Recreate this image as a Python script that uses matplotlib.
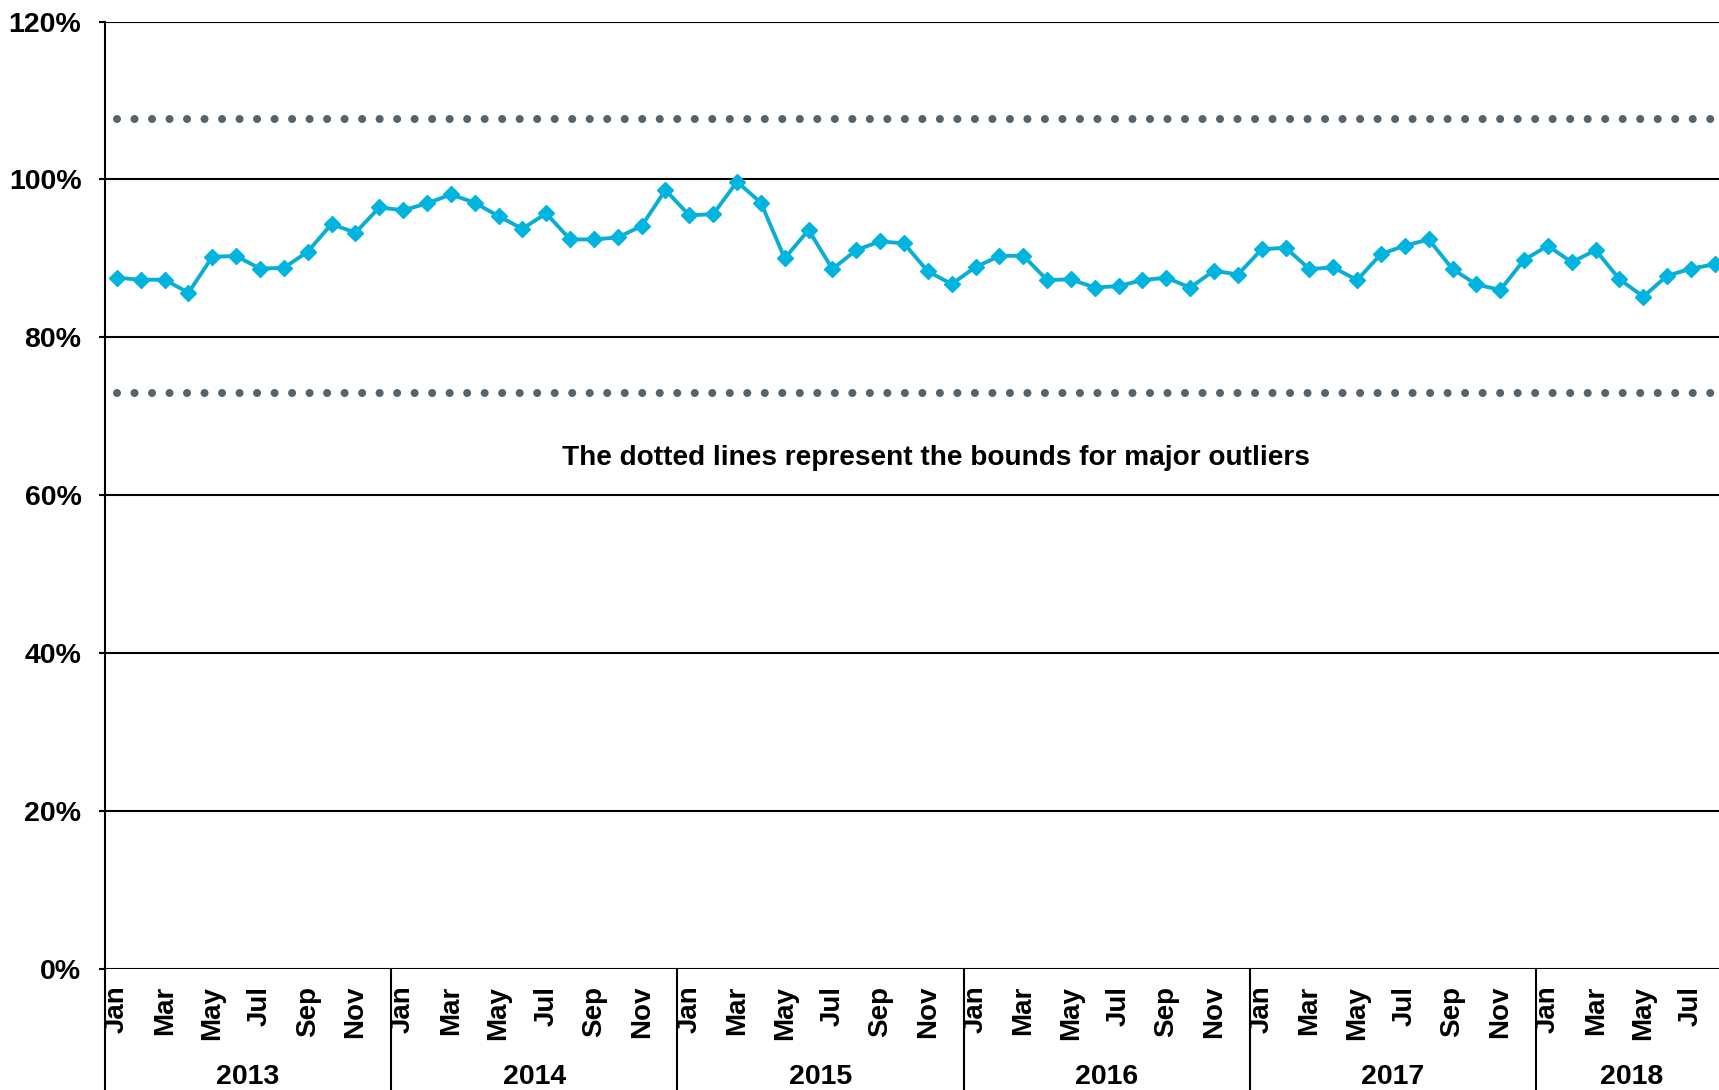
import matplotlib
matplotlib.use("Agg")
import matplotlib.pyplot as plt
import matplotlib.transforms as mtransforms
import numpy as np

plt.rcParams['font.family'] = ['Liberation Sans', 'DejaVu Sans']
plt.rcParams['font.weight'] = 'bold'

years = ["2013", "2014", "2015", "2016", "2017", "2018"]
months = ["Jan", "Feb", "Mar", "Apr", "May", "Jun", "Jul", "Aug", "Sep", "Oct", "Nov", "Dec"]
months_per_year = [12, 12, 12, 12, 12, 8]

values = [
    87.55, 87.3, 87.3, 85.65, 90.2, 90.3, 88.7, 88.8, 90.85, 94.35, 93.25, 96.45,   # 2013
    96.1, 96.95, 98.1, 97.05, 95.35, 93.75, 95.7, 92.4, 92.4, 92.65, 94.1, 98.65,   # 2014
    95.45, 95.6, 99.7, 97.05, 90.0, 93.6, 88.65, 91.05, 92.15, 91.9, 88.35, 86.75,  # 2015
    88.9, 90.3, 90.35, 87.25, 87.35, 86.3, 86.5, 87.25, 87.55, 86.3, 88.45, 87.95,  # 2016
    91.15, 91.35, 88.65, 88.85, 87.25, 90.55, 91.6, 92.4, 88.65, 86.7, 86.0, 89.8,  # 2017
    91.6, 89.5, 91.05, 87.35, 85.15, 87.8, 88.7, 89.25,                             # 2018
]
upper_bound = 107.7
lower_bound = 72.9
yticks = [0, 20, 40, 60, 80, 100, 120]
note = "The dotted lines represent the bounds for major outliers"

W, H = 1719, 1090
fig = plt.figure(figsize=(W / 100, H / 100), dpi=100)
n = len(values)
month_px = 23.85
left_px, right_px = 105.0, 105.0 + n * month_px
top_px, bottom_px = 21.5, 969.0
ax = fig.add_axes([left_px / W, 1 - bottom_px / H,
                   (right_px - left_px) / W, (bottom_px - top_px) / H])

x = np.arange(n)
ax.set_xlim(-0.5, n - 0.5)
ax.set_ylim(0, 120)

# gridlines
for yv in yticks:
    ax.axhline(yv, color='black', lw=1.5, zorder=1)

# bounds (dotted)
dot_lw = 5.8
dot_style = dict(color='#56626C', lw=dot_lw, linestyle=(0, (0.001, 12.6 / dot_lw)),
                 dash_capstyle='round', zorder=2)
ax.plot([x[0], x[-1]], [upper_bound, upper_bound], **dot_style)
ax.plot([x[0], x[-1]], [lower_bound, lower_bound], **dot_style)

# main series
ax.plot(x, values, color='#0BAED3', lw=2.8, marker='D', markersize=8.3,
        markerfacecolor='#00B4E0', markeredgecolor='#00B4E0', zorder=3,
        clip_on=False)

# spines
for s in ['top', 'right', 'bottom']:
    ax.spines[s].set_visible(False)
ax.spines['left'].set_linewidth(1.5)

# y ticks
ax.set_yticks(yticks)
ax.set_yticklabels([f"{v}%" for v in yticks], fontsize=20.5, fontweight='bold')
ax.tick_params(axis='y', length=4, width=1.5, pad=13)

# month ticks
month_labels = []
for nm in months_per_year:
    month_labels += months[:nm]
tick_idx = [i for i in range(n) if months.index(month_labels[i]) % 2 == 0]
ax.set_xticks(tick_idx)
ax.set_xticklabels([month_labels[i] for i in tick_idx], rotation=90,
                   fontsize=20, fontweight='bold')
ax.tick_params(axis='x', length=0, pad=12)

# year separators and labels
trans_sep = mtransforms.blended_transform_factory(ax.transData, ax.transAxes)
trans_lab = mtransforms.blended_transform_factory(ax.transData, fig.transFigure)
start = 0
for yr, nm in zip(years, months_per_year):
    ax.plot([start - 0.5, start - 0.5], [0, -0.2], color='black', lw=1.5,
            transform=trans_sep, clip_on=False)
    ax.text(start + (nm - 1) / 2, (H - 1077) / H, yr, transform=trans_lab,
            ha='center', va='center', fontsize=20.5, fontweight='bold')
    start += nm

ax.text((936 - left_px) / (right_px - left_px), (969 - 458) / (969 - 21.5), note,
        transform=ax.transAxes, ha='center', va='center', fontsize=20.2,
        fontweight='bold')

fig.savefig("out.png", dpi=100)
